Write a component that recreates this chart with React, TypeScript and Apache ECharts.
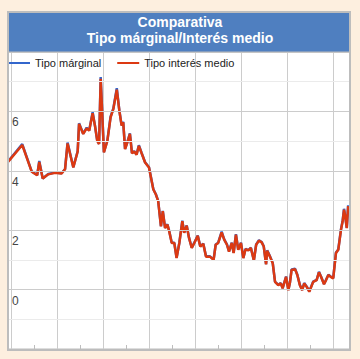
import React, { useEffect, useRef } from "react";
import * as echarts from "echarts";

const titleLines = ["Comparativa", "Tipo márginal/Interés medio"];
const seriesNames = ["Tipo márginal", "Tipo interés medio"];

// Decimal years of each observation
const years = [
  2007.85, 2008.46, 2008.87, 2009.11, 2009.2, 2009.35, 2009.59, 2009.88, 2010.17, 2010.32,
  2010.43, 2010.68, 2010.87, 2010.93, 2011.11, 2011.26, 2011.37, 2011.52, 2011.62, 2011.72,
  2011.8, 2011.87, 2012.01, 2012.16, 2012.3, 2012.42, 2012.57, 2012.68, 2012.78, 2012.85,
  2012.93, 2013.03, 2013.14, 2013.23, 2013.33, 2013.43, 2013.53, 2013.65, 2013.8, 2013.97,
  2014.16, 2014.27, 2014.37, 2014.49, 2014.57, 2014.67, 2014.77, 2014.85, 2014.96, 2015.07,
  2015.17, 2015.29, 2015.42, 2015.5, 2015.61, 2015.71, 2015.83, 2015.94, 2016.09, 2016.2,
  2016.33, 2016.45, 2016.62, 2016.78, 2016.87, 2016.98, 2017.13, 2017.24, 2017.36, 2017.45,
  2017.57, 2017.65, 2017.75, 2017.85, 2017.97, 2018.07, 2018.17, 2018.29, 2018.4, 2018.53,
  2018.63, 2018.75, 2018.87, 2018.96, 2019.06, 2019.11, 2019.23, 2019.35, 2019.45, 2019.59,
  2019.7, 2019.78, 2019.93, 2020.03, 2020.1, 2020.17, 2020.32, 2020.42, 2020.53, 2020.63,
  2020.72, 2020.83, 2020.94, 2021.11, 2021.26, 2021.36, 2021.45, 2021.58, 2021.67, 2021.77,
  2021.87, 2021.98, 2022.1, 2022.2, 2022.32, 2022.39, 2022.45, 2022.5, 2022.57, 2022.63,
];

const tipoInteresMedio = [
  4.31, 4.87, 3.97, 3.85, 4.3, 3.74, 3.88, 3.93, 3.91, 4.05,
  4.92, 4.11, 4.65, 5.58, 5.24, 5.43, 5.35, 5.94, 5.52, 5.01,
  4.9, 7.1, 4.62, 5.01, 5.8, 6.08, 6.73, 6.03, 5.52, 5.63,
  4.73, 4.96, 5.24, 4.59, 4.65, 4.54, 4.84, 4.59, 4.28, 4.11,
  3.37, 3.2, 2.98, 2.13, 2.64, 2.07, 2.19, 1.96, 1.57, 1.57,
  1.06, 1.57, 2.3, 1.91, 2.15, 1.74, 1.4, 1.57, 1.81, 1.45,
  1.54, 1.11, 1.11, 1.0, 1.51, 1.57, 1.93, 1.68, 1.51, 1.28,
  1.57, 1.23, 1.85, 1.34, 1.57, 1.06, 1.36, 1.32, 1.4, 0.98,
  1.51, 1.65, 1.59, 1.45, 0.85, 1.31, 1.11, 0.89, 0.26, 0.15,
  0.21, 0.04, 0.43, -0.02, 0.24, 0.66, 0.69, 0.49, 0.15, -0.02,
  0.21, 0.09, -0.07, 0.26, 0.32, 0.58, 0.43, 0.18, 0.32, 0.49,
  0.43, 0.38, 1.23, 1.34, 2.02, 2.3, 2.69, 2.47, 2.07, 2.81,
];

const tipoMarginal = [
  4.32, 4.9, 3.98, 3.86, 4.33, 3.74, 3.89, 3.94, 3.92, 4.06,
  4.95, 4.12, 4.66, 5.6, 5.25, 5.45, 5.36, 5.97, 5.53, 5.02,
  4.91, 7.16, 4.63, 5.02, 5.82, 6.1, 6.78, 6.04, 5.53, 5.65,
  4.74, 4.97, 5.26, 4.6, 4.66, 4.55, 4.86, 4.6, 4.29, 4.12,
  3.38, 3.21, 2.99, 2.14, 2.65, 2.08, 2.2, 1.97, 1.58, 1.58,
  1.07, 1.58, 2.32, 1.92, 2.16, 1.75, 1.41, 1.58, 1.82, 1.46,
  1.55, 1.12, 1.12, 1.01, 1.52, 1.58, 1.95, 1.69, 1.52, 1.29,
  1.58, 1.24, 1.87, 1.35, 1.58, 1.07, 1.37, 1.33, 1.41, 0.99,
  1.52, 1.66, 1.6, 1.46, 0.86, 1.32, 1.12, 0.9, 0.27, 0.16,
  0.22, 0.05, 0.44, -0.01, 0.25, 0.68, 0.7, 0.5, 0.16, -0.01,
  0.22, 0.1, -0.06, 0.27, 0.33, 0.6, 0.44, 0.19, 0.33, 0.5,
  0.44, 0.39, 1.25, 1.35, 2.04, 2.32, 2.72, 2.48, 2.08, 2.84,
];

const yLabels = [0, 2, 4, 6];
const minorTickYears = [2009, 2011, 2013, 2015, 2017, 2019, 2021];
const xMin = 2007.84;
const xMax = 2022.71;

const FONT = 'Arial, "Liberation Sans", sans-serif';

export default function App() {
  const ref = useRef<HTMLDivElement>(null);

  useEffect(() => {
    if (!ref.current) return;
    const chart = echarts.init(ref.current, null, { renderer: "svg" });
    const marg = years.map((y, i) => [y, tipoMarginal[i]]);
    const medio = years.map((y, i) => [y, tipoInteresMedio[i]]);
    chart.setOption({
      animation: false,
      backgroundColor: "#fdefdf",
      textStyle: { fontFamily: FONT },
      title: {
        text: titleLines.join("\n"),
        left: "center",
        top: 14,
        padding: 0,
        textStyle: {
          color: "#ffffff",
          fontSize: 14,
          fontWeight: "bold",
          lineHeight: 16,
          fontFamily: FONT,
        },
        z: 20,
      },
      graphic: [
        {
          type: "rect",
          shape: { x: 8, y: 12, width: 342, height: 40 },
          style: { fill: "#4f7fc0", stroke: "#bdbdbd", lineWidth: 1 },
          z: 10,
        },
        {
          type: "rect",
          shape: { x: 8, y: 12, width: 342, height: 338 },
          style: { fill: "none", stroke: "#bdbdbd", lineWidth: 2 },
          z: 15,
        },
      ],
      legend: {
        data: seriesNames.map((n) => ({ name: n, icon: "rect" })),
        left: 8,
        top: 57,
        padding: 0,
        itemWidth: 22,
        itemHeight: 2,
        itemGap: 16,
        textStyle: { fontSize: 11, color: "#222", fontFamily: FONT, lineHeight: 12 },
      },
      grid: {
        left: 8,
        top: 52,
        width: 342,
        height: 297,
        show: true,
        backgroundColor: "#ffffff",
        borderColor: "#bdbdbd",
        borderWidth: 1,
        containLabel: false,
      },
      xAxis: [
        {
          type: "value",
          min: xMin,
          max: xMax,
          minInterval: 2,
          maxInterval: 2,
          axisLine: { show: true, onZero: true, lineStyle: { color: "#333", width: 1 } },
          axisTick: { show: false },
          axisLabel: { show: false },
          splitLine: { show: true, lineStyle: { color: "#cccccc", width: 1 } },
        },
        {
          type: "value",
          min: xMin,
          max: xMax,
          position: "bottom",
          axisLine: { show: false, onZero: false },
          axisTick: {
            show: true,
            inside: true,
            length: 4,
            customValues: minorTickYears,
            lineStyle: { color: "#bdbdbd", width: 1 },
          },
          axisLabel: { show: false },
          splitLine: { show: false },
        },
      ],
      yAxis: {
        type: "value",
        min: -2,
        max: 8,
        interval: 1,
        axisLine: { show: false },
        axisTick: { show: false },
        axisLabel: {
          inside: true,
          margin: 4,
          verticalAlign: "top",
          padding: [5, 0, 0, 0],
          fontSize: 12,
          color: "#444",
          fontFamily: FONT,
          formatter: (v: number) => (yLabels.indexOf(v) >= 0 ? String(v) : ""),
        },
        splitLine: { show: true, lineStyle: { color: ["#cccccc", "#ebebeb"], width: 1 } },
        z: 5,
      },
      series: [
        {
          name: seriesNames[0],
          type: "line",
          data: marg,
          showSymbol: false,
          symbol: "none",
          lineStyle: { color: "#3366cc", width: 2.5 },
          itemStyle: { color: "#3366cc" },
        },
        {
          name: seriesNames[1],
          type: "line",
          data: medio,
          showSymbol: false,
          symbol: "none",
          lineStyle: { color: "#dc3912", width: 2.5 },
          itemStyle: { color: "#dc3912" },
        },
      ],
    });
    return () => chart.dispose();
  }, []);

  return (
    <div
      ref={ref}
      style={{ position: "absolute", left: 0, top: 0, width: 360, height: 359 }}
    />
  );
}
